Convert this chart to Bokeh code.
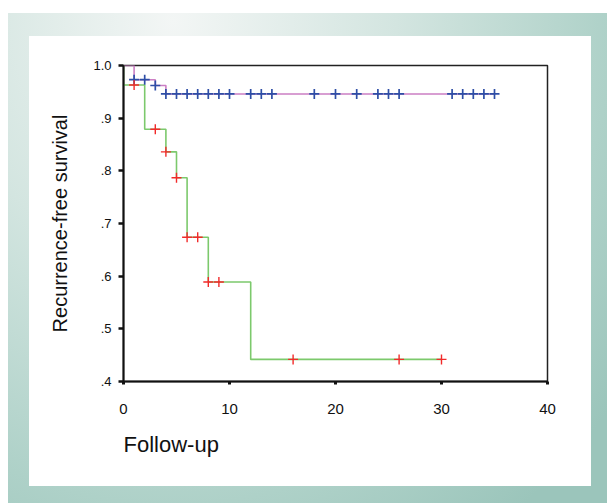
from bokeh.plotting import figure
from bokeh.models import Range1d, FixedTicker, Title, CustomJSTickFormatter
from bokeh.embed import file_html
from bokeh.resources import INLINE

# ---- data (Kaplan-Meier, recurrence-free survival) ----
# Group A: pink step line with blue censor marks
a_times = [0, 1, 3, 4, 35]
a_surv = [1.0, 0.973, 0.962, 0.946, 0.946]
a_censored = [1, 2, 3, 4, 5, 6, 7, 8, 9, 10, 12, 13, 14, 18, 20, 22, 24, 25, 26,
              31, 32, 33, 34, 35]

# Group B: green step line with red censor marks
b_times = [0, 0, 2, 4, 5, 6, 8, 12, 30]
b_surv = [1.0, 0.963, 0.879, 0.836, 0.787, 0.674, 0.589, 0.442, 0.442]
b_censored = [1, 3, 4, 5, 6, 7, 8, 9, 16, 26, 30]

x_ticks = [0, 10, 20, 30, 40]
y_ticks = [0.4, 0.5, 0.6, 0.7, 0.8, 0.9, 1.0]
x_title = "Follow-up"
y_title = "Recurrence-free survival"


def surv_at(times, surv, t):
    s = surv[0]
    for ti, si in zip(times, surv):
        if ti <= t:
            s = si
    return s


a_cens_y = [surv_at(a_times, a_surv, t) for t in a_censored]
b_cens_y = [surv_at(b_times, b_surv, t) for t in b_censored]

FONT = "Liberation Sans"

p = figure(width=607, height=503, output_backend="svg", toolbar_location=None,
           x_range=Range1d(0, 40), y_range=Range1d(0.4, 1.0),
           min_border_left=123, min_border_right=60,
           min_border_top=65, min_border_bottom=122)

p.border_fill_color = None
p.background_fill_color = "white"
p.outline_line_color = "#222222"
p.outline_line_width = 1.5
p.grid.visible = False
p.styles = {
    "background": (
        "linear-gradient(#ffffff,#ffffff) 29px 36px / 562px 450px no-repeat, "
        "radial-gradient(ellipse 560px 620px at 165px 8px, #f3f6f5 0%, #d3e5e0 40%, "
        "#aed1c8 78%, #9bc5bb 100%) 8px 13px / 599px 490px no-repeat, #ffffff"
    )
}

# step lines
p.step(a_times, a_surv, mode="after", line_color="#cc7fc4", line_width=1.6)
p.step(b_times, b_surv, mode="after", line_color="#7cc96c", line_width=1.6)

# censor marks
p.scatter(a_censored, a_cens_y, marker="cross", size=10, line_color="#2e4ea6",
          line_width=1.7)
p.scatter(b_censored, b_cens_y, marker="cross", size=10, line_color="#f22a2a",
          line_width=1.4)

# axes
xa = p.xaxis[0]
xa.ticker = FixedTicker(ticks=x_ticks)
xa.minor_tick_line_color = None
xa.major_tick_in = 0
xa.major_tick_out = 3
xa.major_tick_line_width = 3
xa.major_tick_line_color = "#111111"
xa.axis_line_width = 2
xa.axis_line_color = "#111111"
xa.major_label_standoff = 19
xa.major_label_text_font = FONT
xa.major_label_text_font_size = "15px"
xa.major_label_text_color = "#111111"

ya = p.yaxis[0]
ya.ticker = FixedTicker(ticks=y_ticks)
ya.formatter = CustomJSTickFormatter(
    code="var s = tick.toFixed(1); return tick >= 1 ? s : s.replace(/^0/, '');")
ya.minor_tick_line_color = None
ya.major_tick_in = 0
ya.major_tick_out = 5
ya.major_tick_line_width = 2.5
ya.major_tick_line_color = "#111111"
ya.axis_line_width = 2
ya.axis_line_color = "#111111"
ya.major_label_standoff = 7
ya.major_label_text_font = FONT
ya.major_label_text_font_size = "13px"
ya.major_label_text_color = "#111111"
ya.axis_label = y_title
ya.axis_label_text_font = FONT
ya.axis_label_text_font_size = "20px"
ya.axis_label_text_font_style = "normal"
ya.axis_label_text_color = "#111111"
ya.axis_label_standoff = 19

p.add_layout(Title(text=x_title, align="left", text_font=FONT,
                   text_font_size="22px", text_font_style="normal",
                   text_color="#111111", standoff=27), "below")

open("out.html", "w").write(file_html(p, INLINE))
